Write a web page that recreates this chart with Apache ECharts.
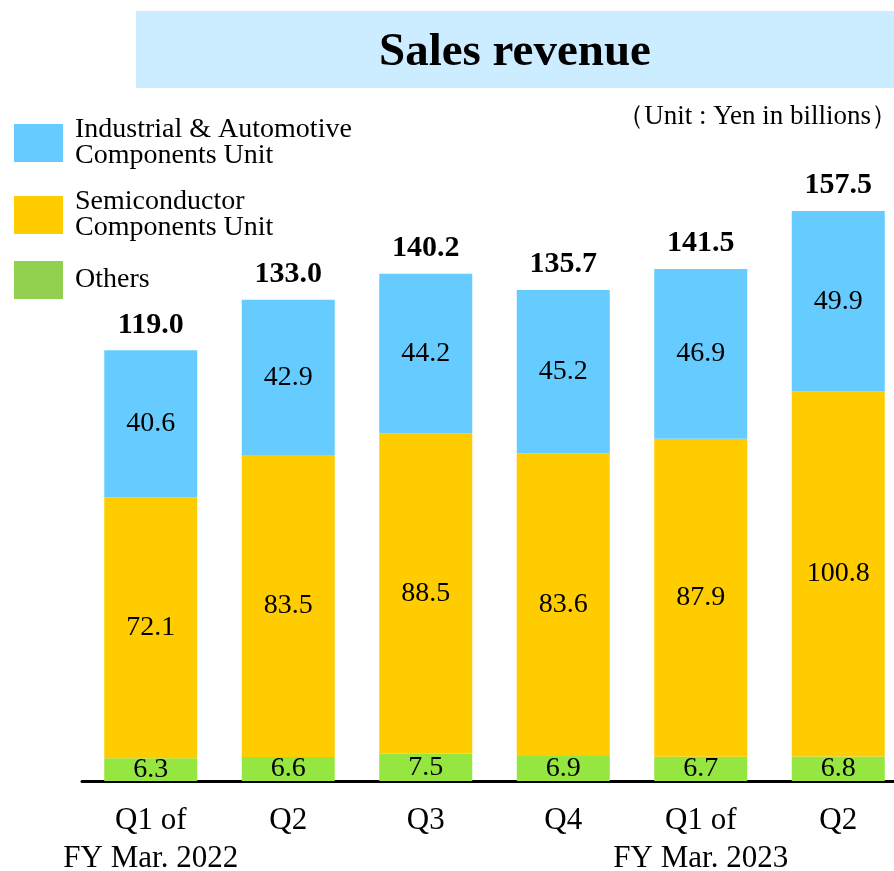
<!DOCTYPE html>
<html>
<head>
<meta charset="utf-8">
<script src="https://cdn.jsdelivr.net/npm/echarts@6/dist/echarts.min.js"></script>
<style>
  html, body { margin: 0; padding: 0; background: #fff; }
  #main { width: 894px; height: 871px; }
</style>
</head>
<body>
<div id="main"></div>
<script>
// data
var quarters = ['Q1 of\nFY Mar. 2022', 'Q2', 'Q3', 'Q4', 'Q1 of\nFY Mar. 2023', 'Q2'];
var industrial = [40.6, 42.9, 44.2, 45.2, 46.9, 49.9];
var semiconductor = [72.1, 83.5, 88.5, 83.6, 87.9, 100.8];
var others = [6.3, 6.6, 7.5, 6.9, 6.7, 6.8];
var totals = [119.0, 133.0, 140.2, 135.7, 141.5, 157.5];

var nameInd = 'Industrial & Automotive\nComponents Unit';
var nameSemi = 'Semiconductor\nComponents Unit';
var nameOth = 'Others';

var serif = 'Liberation Serif';

var innerLabel = {
    show: true,
    position: 'inside',
    fontFamily: serif,
    fontSize: 28,
    color: '#000',
    formatter: function (p) { return p.value.toFixed(1); }
};

function oneLegend(name, color, top) {
    return {
        data: [{ name: name, itemStyle: { color: color } }],
        left: 14,
        top: top,
        orient: 'vertical',
        icon: 'rect',
        itemWidth: 49,
        itemHeight: 38,
        selectedMode: false,
        padding: 0,
        textStyle: {
            fontFamily: serif,
            fontSize: 28,
            lineHeight: 26,
            color: '#000',
            padding: [0, 0, 0, 7]
        }
    };
}

var option = {
    backgroundColor: '#fff',
    animation: false,
    title: {
        text: 'Sales revenue',
        left: 379,
        top: 29,
        padding: 0,
        textStyle: {
            fontFamily: serif,
            fontWeight: 'bold',
            fontSize: 47,
            color: '#000'
        }
    },
    graphic: [{
        type: 'rect',
        z: -10,
        shape: { x: 136, y: 11, width: 758, height: 77 },
        style: { fill: '#CCECFF' }
    }, {
        type: 'text',
        style: {
            x: 898,
            y: 117,
            text: '（Unit : Yen in billions）',
            align: 'right',
            verticalAlign: 'middle',
            fontFamily: serif,
            fontSize: 27,
            fill: '#000'
        }
    }],
    legend: [
        oneLegend(nameInd, '#66CCFF', 116),
        oneLegend(nameSemi, '#FFCC00', 188),
        oneLegend(nameOth, '#92D050', 261)
    ],
    grid: {
        left: 82,
        top: 202,
        width: 825,
        height: 579,
        outerBoundsMode: 'none'
    },
    xAxis: {
        type: 'category',
        data: quarters,
        axisLine: { lineStyle: { color: '#000', width: 3 } },
        axisTick: { show: false },
        axisLabel: {
            interval: 0,
            margin: 21,
            fontFamily: serif,
            fontSize: 31,
            lineHeight: 38,
            color: '#000'
        }
    },
    yAxis: {
        type: 'value',
        min: 0,
        max: 160,
        show: false
    },
    series: [{
        name: nameOth,
        type: 'bar',
        stack: 'total',
        barWidth: 93,
        data: others,
        itemStyle: { color: '#95E641' },
        label: innerLabel
    }, {
        name: nameSemi,
        type: 'bar',
        stack: 'total',
        barWidth: 93,
        data: semiconductor,
        itemStyle: { color: '#FFCC00' },
        label: innerLabel
    }, {
        name: nameInd,
        type: 'bar',
        stack: 'total',
        barWidth: 93,
        data: industrial,
        itemStyle: { color: '#66CCFF' },
        label: innerLabel
    }, {
        name: 'Total',
        type: 'line',
        data: totals,
        symbol: 'circle',
        symbolSize: 1,
        itemStyle: { color: 'rgba(0,0,0,0)' },
        lineStyle: { opacity: 0 },
        label: {
            show: true,
            position: 'top',
            distance: 10,
            fontFamily: serif,
            fontWeight: 'bold',
            fontSize: 30,
            color: '#000',
            formatter: function (p) { return p.value.toFixed(1); }
        },
        z: 5
    }]
};

var myChart = echarts.init(document.getElementById('main'));
myChart.setOption(option);
</script>
</body>
</html>
